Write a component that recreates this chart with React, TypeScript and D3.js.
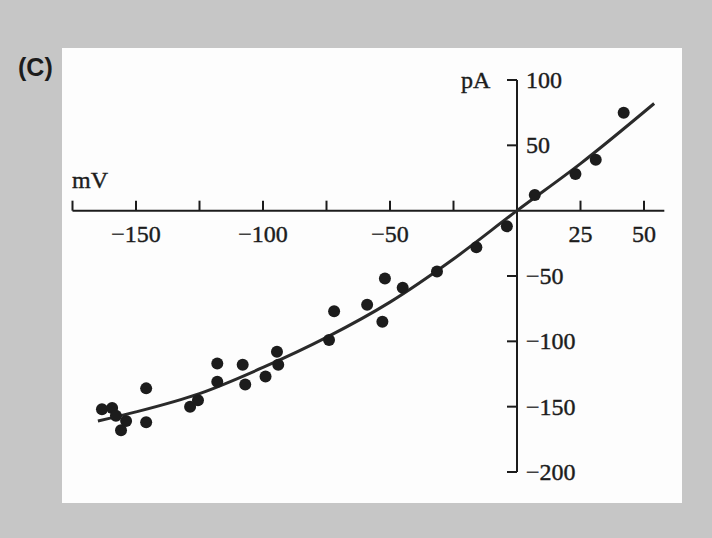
import React from 'react';
import * as d3 from 'd3';

// measured points: membrane potential (mV) vs current (pA)
const pointMV = [-163.4, -159.4, -157.9, -155.9, -153.9, -146, -146, -128.7, -125.6, -118, -118, -108, -107, -99, -94.5, -94, -74, -72, -59, -53, -52, -45, -31.5, -16, -4, 7, 23, 31, 42];
const pointPA = [-152, -151, -157, -168, -161, -162, -136, -150, -145, -117, -131, -118, -133, -127, -108, -118, -99, -77, -72, -85, -52, -59, -46.5, -28, -12, 12, 28, 39, 75];

// fitted curve
const fitMV = [-165, -150, -125, -100, -75, -50, -25, 0, 25, 54];
const fitPA = [-161, -154, -140, -120, -97, -70, -37, 0, 36, 82];

const xTicks = [-175, -150, -125, -100, -75, -50, -25, 25, 50];
const xLabels = [-150, -100, -50, 25, 50];
const yTicks = [100, 50, -50, -100, -150, -200];

const W = 712;
const H = 538;
const ink = '#1c1c1c';
const serif = '"Liberation Serif", "DejaVu Serif", serif';

const fmt = (v: number) => (v < 0 ? '\u2212' + Math.abs(v) : String(v));

export default function App() {
  const x = d3.scaleLinear().domain([-175, 50]).range([72.5, 644]);
  const y = d3.scaleLinear().domain([-200, 100]).range([472, 80]);

  const fit = fitMV.map((v, i) => [v, fitPA[i]] as [number, number]);
  const line = d3.line<[number, number]>()
    .x(d => x(d[0]))
    .y(d => y(d[1]))
    .curve(d3.curveMonotoneX);

  const x0 = x(0);
  const y0 = y(0);
  const txt = { fontFamily: serif, fontSize: 24, fill: ink, stroke: ink, strokeWidth: 0.4 };

  return (
    <div style={{ position: 'absolute', left: 0, top: 0 }}>
      <svg width={W} height={H} style={{ display: 'block' }}>
        <rect x={0} y={0} width={W} height={H} fill="#c6c6c6" />
        <rect x={62} y={48} width={620} height={455} fill="#fdfdfd" />

        <text x={18} y={76} fontFamily='"Liberation Sans", Arial, sans-serif' fontWeight="bold" fontSize={25} fill={ink}>(C)</text>

        {/* x axis */}
        <line x1={x(-175)} x2={x(58)} y1={y0} y2={y0} stroke={ink} strokeWidth={2} />
        {xTicks.map(t => (
          <line key={'xt' + t} x1={x(t)} x2={x(t)} y1={y0} y2={y0 - 10} stroke={ink} strokeWidth={2} />
        ))}
        {xLabels.map(t => (
          <text key={'xl' + t} x={x(t)} y={242} textAnchor="middle" {...txt}>{fmt(t)}</text>
        ))}
        <text x={72} y={188} {...txt}>mV</text>

        {/* y axis */}
        <line x1={x0} x2={x0} y1={y(100)} y2={y(-200)} stroke={ink} strokeWidth={2} />
        {yTicks.map(t => (
          <line key={'yt' + t} x1={x0 - 10} x2={x0} y1={y(t)} y2={y(t)} stroke={ink} strokeWidth={2} />
        ))}
        {yTicks.map(t => (
          <text key={'yl' + t} x={x0 + 9} y={y(t) + 8} {...txt}>{fmt(t)}</text>
        ))}
        <text x={461} y={88} {...txt}>pA</text>

        {/* fitted curve */}
        <path d={line(fit) || ''} fill="none" stroke="#2a2a2a" strokeWidth={3} />

        {/* data points */}
        {pointMV.map((v, i) => (
          <circle key={'p' + i} cx={x(v)} cy={y(pointPA[i])} r={6} fill={ink} />
        ))}
      </svg>
    </div>
  );
}
